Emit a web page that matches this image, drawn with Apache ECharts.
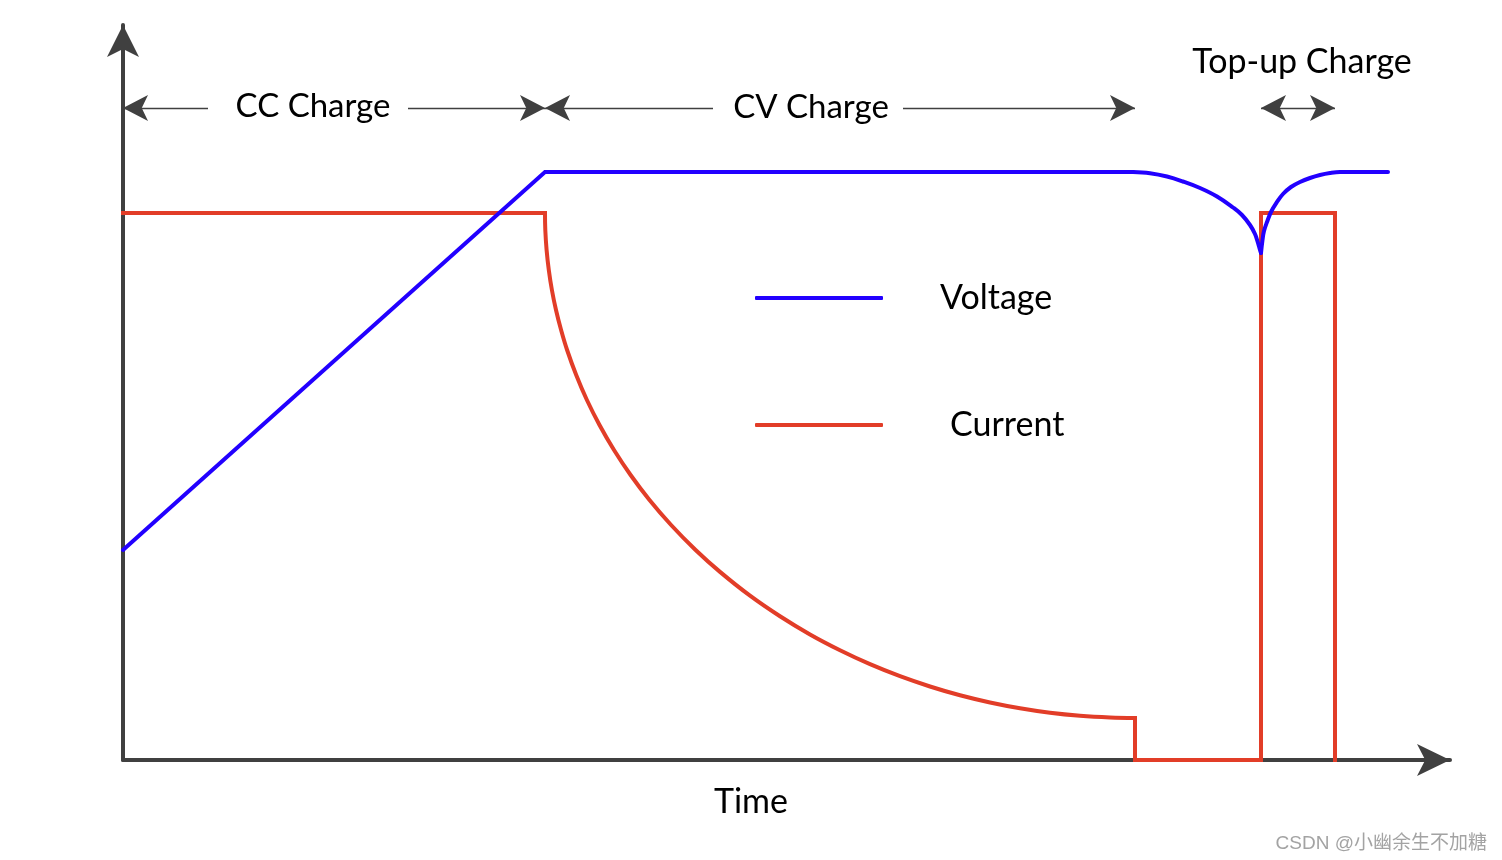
<!DOCTYPE html>
<html><head><meta charset="utf-8">
<script src="https://cdn.jsdelivr.net/npm/echarts/dist/echarts.min.js"></script>
<style>html,body{margin:0;padding:0;background:#fff}#c{width:1502px;height:860px}</style>
</head><body><div id="c"></div>
<script>
// ---- data (x: time units, y: level units) ----
// Voltage
const voltageRamp = [[0,21.0],[42.2,58.8],[101.0,58.8]];
const voltageDip = [[101.0,58.8],[102.7,58.68],[104.4,58.35],[106.0,57.85],[107.7,57.2],[109.4,56.35],[111.0,55.25],[111.9,54.5],[112.7,53.5],[113.2,52.6],[113.5,51.7],[113.7,51.0],[113.8,50.7]];
const voltageRecover = [[113.8,50.7],[113.95,52.0],[114.1,52.9],[114.4,53.8],[114.8,54.8],[115.4,55.8],[116.0,56.6],[116.8,57.3],[117.7,57.8],[118.7,58.2],[119.7,58.5],[120.7,58.7],[121.7,58.8],[126.5,58.8]];
// Current
const currentCC = [[0,54.7],[42.2,54.7]];
const currentCV = [[42.2,54.7],[42.23,53.0],[42.36,51.0],[42.58,49.0],[42.89,47.0],[43.3,45.0],[43.81,43.0],[44.41,41.0],[45.32,38.5],[46.39,36.0],[47.65,33.5],[49.1,31.0],[50.76,28.5],[52.65,26.0],[54.81,23.5],[57.26,21.0],[59.7,18.81],[62.7,16.43],[65.7,14.37],[68.7,12.55],[71.7,10.97],[74.7,9.58],[77.7,8.38],[80.7,7.35],[83.7,6.47],[86.7,5.75],[89.7,5.17],[92.7,4.72],[95.7,4.42],[98.7,4.25],[101.2,4.2]];
const currentTail = [[101.2,4.2],[101.2,0],[113.8,0],[113.8,54.7],[121.2,54.7],[121.2,0]];
const seriesNames = ['Voltage','Current'];
const phaseNames = ['CC Charge','CV Charge','Top-up Charge'];
const phaseEdges = [0, 42.2, 101.2, 113.8, 121.2];
const axisName = 'Time';
const watermark = 'CSDN @小幽余生不加糖';

// ---- chart ----
const FONT = 'Lato, "Open Sans", sans-serif';
const AXIS_COLOR = '#404040';
const BLUE = '#2200ff', RED = '#e23d28';
const annY = 65.2;
const arrowEnd = {symbol:'arrow', symbolSize:[19.5,25]};
const plainEnd = {symbol:'none'};
function seg(x0, x1, y, a0, a1) {
  return [Object.assign({coord:[x0,y]}, a0 ? arrowEnd : plainEnd),
          Object.assign({coord:[x1,y]}, a1 ? arrowEnd : plainEnd)];
}
const annLines = [
  seg(phaseEdges[0], 8.5, annY, true, false),
  seg(28.5, phaseEdges[1], annY, false, true),
  seg(phaseEdges[1], 59.0, annY, true, false),
  seg(78.0, phaseEdges[2], annY, false, true),
  seg(phaseEdges[3], phaseEdges[4], annY, true, true)
];
const annTexts = [
  {name: phaseNames[0], coord:[19.0, 65.4], label: {fontSize: 33}},
  {name: phaseNames[1], coord:[68.8, 65.3], label: {fontSize: 33}},
  {name: phaseNames[2], coord:[117.9, 69.8]}
];

function lineSeries(name, data, color, z, smooth, cap) {
  return {
    name: name, type: 'line', data: data, symbol: 'none', clip: false, z: z,
    smooth: smooth, color: color,
    lineStyle: {color: color, width: 4, join: 'miter', cap: cap}
  };
}

const chart = echarts.init(document.getElementById('c'));
chart.setOption({
  animation: false,
  backgroundColor: '#fff',
  title: {
    text: watermark, right: 10, top: 829,
    textStyle: {fontSize: 19, fontWeight: 'normal', color: '#a3a3a3', fontFamily: '"Liberation Sans", "Noto Sans CJK SC", sans-serif'}
  },
  grid: {left: 123, right: 52, top: 25, bottom: 100, containLabel: false},
  legend: {
    data: [{name: seriesNames[0]}, {name: seriesNames[1], textStyle: {padding: [0,0,0,62]}}],
    orient: 'vertical', left: 750, top: 276, icon: 'roundRect', itemWidth: 128, itemHeight: 4, itemGap: 93,
    selectedMode: false,
    textStyle: {fontSize: 34, fontFamily: FONT, color: '#000', padding: [0,0,0,52]}
  },
  xAxis: {
    type: 'value', min: 0, max: 132.7,
    name: axisName, nameLocation: 'middle', nameGap: 25,
    nameTextStyle: {fontSize: 34, fontFamily: FONT, color: '#000', padding: [0,71,0,0]},
    axisLine: {show: true, lineStyle: {color: AXIS_COLOR, width: 4}, symbol: ['none','arrow'], symbolSize: [24,33]},
    axisTick: {show: false}, axisLabel: {show: false}, splitLine: {show: false}
  },
  yAxis: {
    type: 'value', min: 0, max: 73.5,
    axisLine: {show: true, lineStyle: {color: AXIS_COLOR, width: 4}, symbol: ['none','arrow'], symbolSize: [24,32]},
    axisTick: {show: false}, axisLabel: {show: false}, splitLine: {show: false}
  },
  series: [
    lineSeries(seriesNames[1], currentCC, RED, 3, false, 'square'),
    lineSeries(seriesNames[1], currentCV, RED, 3, 0.4, 'square'),
    lineSeries(seriesNames[1], currentTail, RED, 3, false, 'square'),
    lineSeries(seriesNames[0], voltageRamp, BLUE, 4, false, 'round'),
    lineSeries(seriesNames[0], voltageDip, BLUE, 4, 0.4, 'round'),
    lineSeries(seriesNames[0], voltageRecover, BLUE, 4, 0.4, 'round'),
    {
      name: 'annotations', type: 'line', data: [], silent: true, z: 5,
      markLine: {
        silent: true, animation: false,
        lineStyle: {color: '#404040', width: 1.3, type: 'solid'},
        label: {show: false},
        emphasis: {disabled: true},
        data: annLines
      },
      markPoint: {
        silent: true, animation: false,
        symbol: 'circle', symbolSize: 0,
        itemStyle: {color: 'transparent'},
        label: {show: true, position: 'inside', formatter: '{b}', fontSize: 34, fontFamily: FONT, color: '#000'},
        data: annTexts
      }
    }
  ]
});
</script>
</body></html>
